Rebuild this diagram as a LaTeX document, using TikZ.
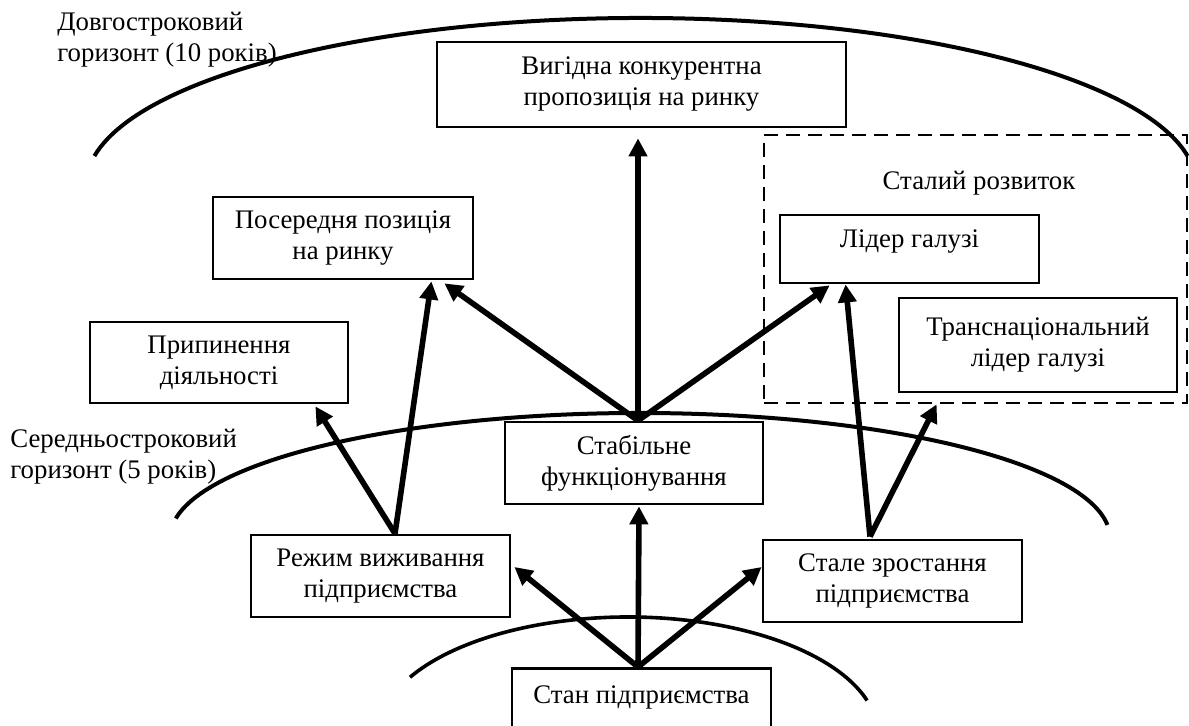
\documentclass[tikz,border=0pt]{standalone}
\usepackage{fontspec}
\setmainfont{Liberation Serif}
\usetikzlibrary{arrows.meta,calc}
\begin{document}
\begin{tikzpicture}[x=0.5pt,y=-0.5pt,
  font=\fontsize{13.4pt}{15.5pt}\selectfont,
  sz/.style 2 args={minimum width=#1*0.5pt, minimum height=#2*0.5pt},
  box/.style={draw, line width=1.4pt, fill=white, align=center, inner sep=0pt},
  framebox/.style={draw, dash pattern=on 7pt off 4pt, line width=1.4pt, inner sep=0pt},
  arr/.style={line width=2.8pt, -{Triangle[length=9pt,width=9pt]}},
  hor/.style={line width=2pt},
  lab/.style={align=left, inner sep=0pt}]
\useasboundingbox (0,0) rectangle (1189,726);

% horizons
\draw[hor] ([shift={(190:555 and 167)}]641,185) arc[start angle=190,end angle=350,x radius=555,y radius=167];
\draw[hor] ([shift={(189:470 and 125)}]640,538) arc[start angle=189,end angle=354,x radius=470,y radius=125];
\draw[hor, line width=1.8pt] ([shift={(209.3:250 and 118)}]628,735) arc[start angle=209.3,end angle=343,x radius=250,y radius=118];

% frame
\node[framebox, sz={423}{268}] (D) at (975.5,269) {};
\node[inner sep=0pt] (sr) at (979,183) {Сталий розвиток};

% labels
\node[lab, anchor=west] (lt) at (57,40) {Довгостроковий\\горизонт (10 років)};
\node[lab, anchor=west] (mt) at (10,456.5) {Середньостроковий\\горизонт (5 років)};

% boxes
\node[box, sz={409}{85}] (V) at (641.5,84.5) {Вигідна конкурентна\\пропозиція на ринку};
\node[box, sz={260}{82}] (P) at (343,238) {Посередня позиція\\на ринку};
\node[box, sz={258}{81}] (Pr) at (219,362.5) {Припинення\\діяльності};
\node[box, sz={259}{68}, text depth=10pt] (L) at (909.5,249) {Лідер галузі};
\node[box, sz={278}{94}] (T) at (1038,345) {Транснаціональний\\лідер галузі};
\node[box, sz={258}{82}] (S) at (634,463) {Стабільне\\функціонування};
\node[box, sz={259}{82}] (R) at (380.5,576) {Режим виживання\\підприємства};
\node[box, sz={259}{82}] (Z) at (892.5,581) {Стале зростання\\підприємства};
\node[box, minimum width=259*0.5pt, anchor=north, text height=9.5pt, text depth=40pt, inner ysep=8pt] (Stan) at (641.5,667) {Стан підприємства};

% arrows
\draw[arr] ($(Stan.north)+(-3.5,0)$) -- ($(R.east)+(3,-9)$);
\draw[arr] ($(Stan.north)+(-3.5,0)$) -- ($(S.south)+(5,1)$);
\draw[arr] ($(Stan.north)+(-3.5,0)$) -- ($(Z.west)+(0,-14)$);
\draw[arr] ($(S.north)+(4,0)$) -- ($(V.south)+(-3.5,10)$);
\draw[arr] ($(S.north)+(4,0)$) -- ($(P.south east)+(-30,3)$);
\draw[arr] ($(S.north)+(4,0)$) -- ($(L.south west)+(51,1)$);
\draw[arr] ($(R.north)+(14.5,0)$) -- ($(Pr.south east)+(-34,2)$);
\draw[arr] ($(R.north)+(14.5,0)$) -- ($(P.south east)+(-43,1)$);
\draw[arr] ($(Z.north)+(-22.5,-2)$) -- ($(L.south west)+(67,0)$);
\draw[arr] ($(Z.north)+(-22.5,-2)$) -- ($(T.south west)+(39,11)$);
\end{tikzpicture}
\end{document}
